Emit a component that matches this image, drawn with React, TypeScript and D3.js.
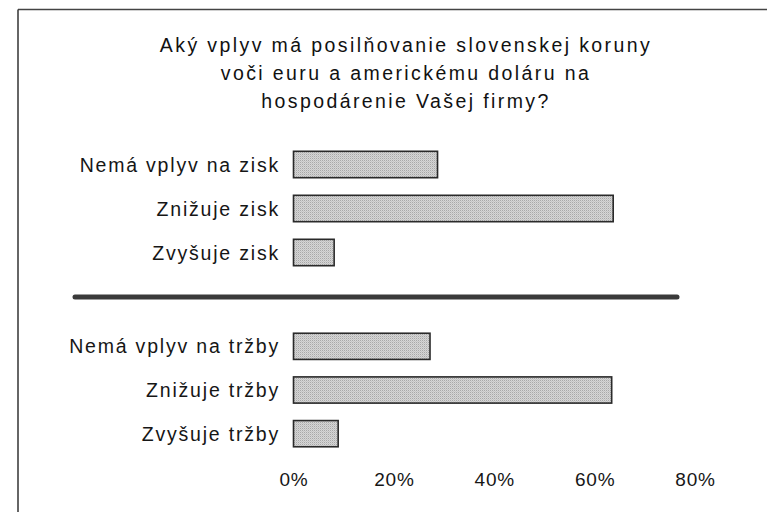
import React from "react";
import * as d3 from "d3";

const titleLines = [
  "Aký vplyv má posilňovanie slovenskej koruny",
  "voči euru a americkému doláru na",
  "hospodárenie Vašej firmy?",
];
const groupA = ["Nemá vplyv na zisk", "Znižuje zisk", "Zvyšuje zisk"];
const valuesA = [28.7, 63.7, 8.1];
const groupB = ["Nemá vplyv na tržby", "Znižuje tržby", "Zvyšuje tržby"];
const valuesB = [27.2, 63.4, 8.9];
const ticks = [0, 20, 40, 60, 80];

const W = 767;
const H = 512;

export default function App() {
  const x = d3.scaleLinear().domain([0, 80]).range([293.5, 695]);
  const yA = d3.scaleBand().domain(groupA).range([142.5, 274.5]).paddingInner(0.4).paddingOuter(0.2);
  const yB = d3.scaleBand().domain(groupB).range([324.5, 455.5]).paddingInner(0.4).paddingOuter(0.2);
  const font = "'Liberation Sans', Arial, Helvetica, sans-serif";

  const renderGroup = (cats: string[], vals: number[], y: d3.ScaleBand<string>) =>
    cats.map((c, i) => {
      const yy = y(c)!;
      const bh = y.bandwidth();
      return (
        <g key={c}>
          <text
            x={280}
            y={yy + bh / 2}
            textAnchor="end"
            dominantBaseline="central"
            fontSize={19.5}
            letterSpacing={1.8}
            fill="#161616"
          >
            {c}
          </text>
          <rect
            x={x(0)}
            y={yy}
            width={x(vals[i]) - x(0)}
            height={bh}
            fill="url(#stip)"
            stroke="#2a2a2a"
            strokeWidth={1.6}
          />
        </g>
      );
    });

  return (
    <svg
      width={W}
      height={H}
      style={{ position: "absolute", left: 0, top: 0, background: "#fff" }}
      fontFamily={font}
    >
      <defs>
        <pattern id="stip" width="2" height="2" patternUnits="userSpaceOnUse">
          <rect width="2" height="2" fill="#d6d6d6" />
          <rect width="1" height="1" fill="#a8a8a8" />
          <rect x="1" y="1" width="1" height="1" fill="#c4c4c4" />
        </pattern>
      </defs>
      <rect width={W} height={H} fill="#fff" />
      <line x1={18} y1={9.5} x2={W} y2={9.5} stroke="#444" strokeWidth={1.5} />
      <line x1={18} y1={9.5} x2={18} y2={H} stroke="#333" strokeWidth={1.5} />
      {titleLines.map((t, i) => (
        <text
          key={i}
          x={406}
          y={52 + i * 28.2}
          textAnchor="middle"
          fontSize={19.5}
          letterSpacing={2.4}
          fill="#111"
        >
          {t}
        </text>
      ))}
      {renderGroup(groupA, valuesA, yA)}
      <line x1={75} y1={297} x2={677} y2={297} stroke="#3a3a3a" strokeWidth={5} strokeLinecap="round" />
      {renderGroup(groupB, valuesB, yB)}
      {ticks.map((t) => (
        <text key={t} x={x(t) + 0.5} y={486} textAnchor="middle" fontSize={19} letterSpacing={0.8} fill="#161616">
          {t}%
        </text>
      ))}
    </svg>
  );
}
